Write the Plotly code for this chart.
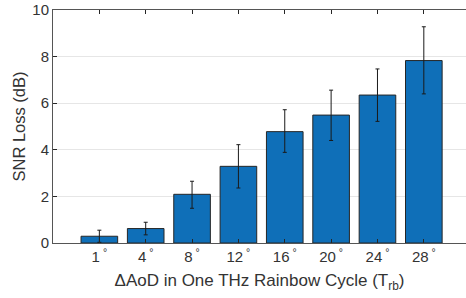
import plotly.graph_objects as go

categories = ["1", "4", "8", "12", "16", "20", "24", "28"]
snr_loss = [0.29, 0.62, 2.09, 3.29, 4.78, 5.49, 6.35, 7.83]
err_upper = [0.55, 0.89, 2.65, 4.22, 5.72, 6.56, 7.47, 9.28]
err_lower = [0.03, 0.35, 1.49, 2.36, 3.89, 4.40, 5.22, 6.40]
y_ticks = [0, 2, 4, 6, 8, 10]

xpos = list(range(1, len(categories) + 1))
plus = [u - v for u, v in zip(err_upper, snr_loss)]
minus = [v - l for v, l in zip(snr_loss, err_lower)]
tick_text = [f"{c}<sup> °</sup>" for c in categories]

font = "Liberation Sans, Arial, Helvetica, sans-serif"
txt = "#333333"

fig = go.Figure(go.Bar(
    x=xpos, y=snr_loss, width=0.79,
    marker=dict(color="#0f6fb8", line=dict(color="#262626", width=1)),
    error_y=dict(type="data", symmetric=False, array=plus, arrayminus=minus,
                 color="#1a1a1a", thickness=1, width=2),
))

fig.update_layout(
    width=466, height=298,
    margin=dict(l=53, r=0, t=10, b=55),
    plot_bgcolor="white", paper_bgcolor="white",
    font=dict(family=font, size=15, color=txt),
    showlegend=False,
)
fig.update_xaxes(
    range=[0, 8.91], tickmode="array", tickvals=xpos, ticktext=tick_text,
    ticks="inside", ticklen=4, tickcolor="#262626",
    showline=True, linecolor="#555", linewidth=1, mirror="ticks",
    showgrid=False, zeroline=False, automargin=False,
    tickfont=dict(size=15, color=txt),
    title=dict(text="ΔAoD in One THz Rainbow Cycle (T<sub>rb</sub>)",
               font=dict(size=17, color=txt), standoff=10),
)
fig.update_yaxes(
    range=[0, 10], tickmode="array", tickvals=y_ticks,
    ticks="inside", ticklen=4, tickcolor="#262626",
    showline=True, linecolor="#555", linewidth=1,
    showgrid=True, gridcolor="#e6e6e6", gridwidth=1, zeroline=False,
    automargin=False,
    tickfont=dict(size=15, color=txt),
    title=dict(text="SNR Loss (dB)", font=dict(size=16.5, color=txt), standoff=2),
)

fig.write_html("out.html", config={"displayModeBar": False},
               post_script="document.body.style.margin='0';document.body.style.overflow='hidden';")
